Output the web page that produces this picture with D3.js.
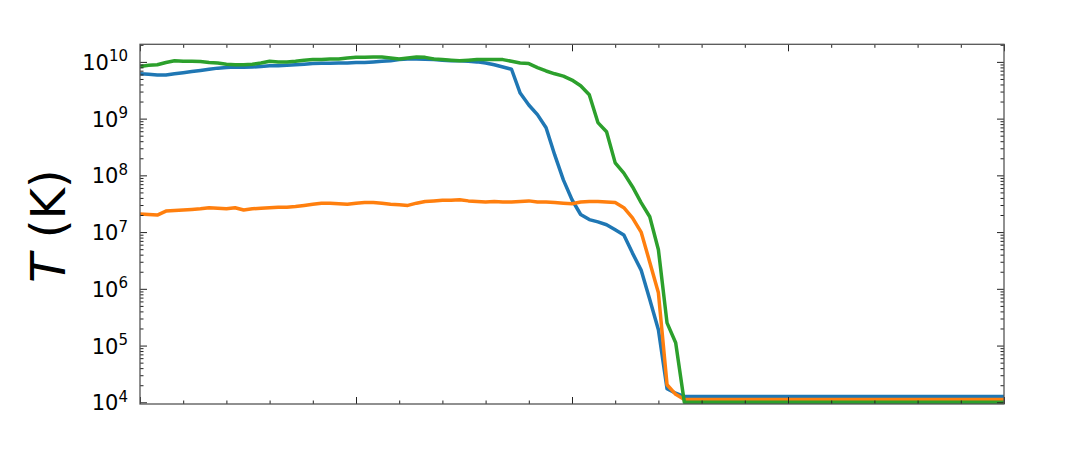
<!DOCTYPE html>
<html>
<head>
<meta charset="utf-8">
<script src="https://cdn.jsdelivr.net/npm/d3@7"></script>
<style>
  body { margin: 0; background: #fff; }
  svg { display: block; }
  .tick line { stroke: #222; }
  .domain { display: none; }
  .ylab { font-family: 'DejaVu Sans', sans-serif; fill: #000; }
</style>
</head>
<body>
<div id="chart"></div>
<script>
'use strict';

// x positions: fixed step, the last point carries the flat tail to x = 4
const xStep = 0.04;
const xEnd = 4;

// log10(T) for each series, one value per x step
const blueLog = [
  9.79, 9.78, 9.77, 9.77, 9.79, 9.81, 9.83, 9.85, 9.87, 9.89,
  9.90, 9.91, 9.905, 9.91, 9.92, 9.93, 9.93, 9.94, 9.95, 9.96,
  9.97, 9.975, 9.975, 9.98, 9.98, 9.99, 9.99, 10.0, 10.01, 10.02,
  10.04, 10.05, 10.05, 10.045, 10.04, 10.03, 10.02, 10.02, 10.01, 10.0,
  9.98, 9.95, 9.91, 9.87, 9.45, 9.24, 9.07, 8.84, 8.36, 7.92,
  7.57, 7.31, 7.22, 7.18, 7.13, 7.04, 6.95, 6.63, 6.33, 5.81,
  5.28, 4.24, 4.16, 4.10
];
const orangeLog = [
  7.32, 7.31, 7.30, 7.37, 7.38, 7.39, 7.40, 7.41, 7.43, 7.42,
  7.41, 7.43, 7.39, 7.41, 7.42, 7.43, 7.44, 7.44, 7.45, 7.47,
  7.49, 7.51, 7.51, 7.50, 7.49, 7.51, 7.52, 7.52, 7.51, 7.49,
  7.48, 7.47, 7.51, 7.54, 7.55, 7.56, 7.56, 7.57, 7.55, 7.54,
  7.53, 7.54, 7.53, 7.53, 7.54, 7.55, 7.53, 7.53, 7.52, 7.51,
  7.50, 7.53, 7.54, 7.54, 7.53, 7.52, 7.43, 7.25, 7.00, 6.47,
  5.93, 4.31, 4.14, 4.05
];
const greenLog = [
  9.92, 9.94, 9.95, 9.99, 10.02, 10.01, 10.01, 10.005, 9.99, 9.98,
  9.96, 9.95, 9.95, 9.96, 9.98, 10.01, 10.0, 10.0, 10.01, 10.03,
  10.04, 10.04, 10.05, 10.05, 10.07, 10.08, 10.08, 10.085, 10.085, 10.07,
  10.05, 10.07, 10.085, 10.08, 10.05, 10.04, 10.03, 10.02, 10.03, 10.04,
  10.04, 10.04, 10.04, 10.01, 9.98, 9.97, 9.90, 9.84, 9.79, 9.75,
  9.68, 9.58, 9.42, 8.93, 8.77, 8.22, 8.04, 7.80, 7.52, 7.27,
  6.69, 5.40, 5.05, 4.00
];

const seriesColors = ['#1f77b4', '#ff7f0e', '#2ca02c'];
const yDecades = [4, 5, 6, 7, 8, 9, 10];

const W = 1080, H = 450;
const margin = { left: 140, right: 76, top: 44.3, bottom: 46 };

window.onload = function () {
  const svg = d3.select('#chart').append('svg')
    .attr('width', W)
    .attr('height', H);

  const x = d3.scaleLinear()
    .domain([0, xEnd])
    .range([margin.left, W - margin.right]);
  const y = d3.scaleLog()
    .domain([Math.pow(10, 3.97), Math.pow(10, 10.31)])
    .range([H - margin.bottom, margin.top]);

  const x0 = x.range()[0], x1 = x.range()[1];
  const y0 = y.range()[0], y1 = y.range()[1];

  // minor ticks: 0.2 steps on x, 2..9 within each decade on y
  const xMajor = d3.range(0, xEnd + 0.001, 1);
  const xMinor = d3.range(0, xEnd + 0.001, 0.2).filter(v => Math.abs(v - Math.round(v)) > 1e-6);
  const yMinor = [];
  yDecades.forEach(function (d) {
    for (let m = 2; m <= 9; m++) {
      const v = m * Math.pow(10, d);
      if (v <= y.domain()[1]) yMinor.push(v);
    }
  });
  const yMajor = yDecades.map(d => Math.pow(10, d));

  // lines
  const line = d3.line()
    .x(d => x(d[0]))
    .y(d => y(d[1]));

  svg.append('clipPath').attr('id', 'clip')
    .append('rect')
    .attr('x', x0).attr('y', y1 - 2)
    .attr('width', x1 - x0).attr('height', y0 - y1 + 2);

  const lines = svg.append('g').attr('clip-path', 'url(#clip)');
  [blueLog, orangeLog, greenLog].forEach(function (vals, k) {
    const pts = vals.map((v, i) => [i * xStep, Math.pow(10, v)]);
    pts.push([xEnd, Math.pow(10, vals[vals.length - 1])]);
    lines.append('path')
      .datum(pts)
      .attr('fill', 'none')
      .attr('stroke', seriesColors[k])
      .attr('stroke-width', 3.5)
      .attr('stroke-linejoin', 'round')
      .attr('d', line);
  });

  // ticks on all four sides, pointing inward
  function addTicks(axisFn, scale, values, size, transform) {
    svg.append('g')
      .attr('transform', transform)
      .call(axisFn(scale).tickValues(values).tickSize(size).tickFormat(''))
      .selectAll('.tick line').attr('stroke-width', 1);
  }
  addTicks(d3.axisBottom, x, xMajor, -7, 'translate(0,' + y0 + ')');
  addTicks(d3.axisBottom, x, xMinor, -3.5, 'translate(0,' + y0 + ')');
  addTicks(d3.axisTop, x, xMajor, -7, 'translate(0,' + y1 + ')');
  addTicks(d3.axisTop, x, xMinor, -3.5, 'translate(0,' + y1 + ')');
  addTicks(d3.axisLeft, y, yMajor, -7, 'translate(' + x0 + ',0)');
  addTicks(d3.axisLeft, y, yMinor, -3.5, 'translate(' + x0 + ',0)');
  addTicks(d3.axisRight, y, yMajor, -7, 'translate(' + x1 + ',0)');
  addTicks(d3.axisRight, y, yMinor, -3.5, 'translate(' + x1 + ',0)');

  // spines
  svg.append('rect')
    .attr('x', x0).attr('y', y1)
    .attr('width', x1 - x0).attr('height', y0 - y1)
    .attr('fill', 'none')
    .attr('stroke', '#555')
    .attr('stroke-width', 1.3);

  // y tick labels as 10^n
  const labels = svg.append('g').selectAll('text')
    .data(yDecades)
    .enter().append('text')
      .attr('class', 'ylab')
      .attr('x', x0 - 12)
      .attr('y', d => y(Math.pow(10, d)) + 8)
      .attr('text-anchor', 'end')
      .style('font-size', '21px');
  labels.append('tspan').text('10');
  labels.append('tspan')
    .attr('dy', -8.5)
    .style('font-size', '15px')
    .text(d => d);

  // y axis title
  const title = svg.append('text')
    .attr('class', 'ylab')
    .attr('transform', 'translate(65,' + 226 + ') rotate(-90)')
    .attr('text-anchor', 'middle')
    .style('font-size', '48px');
  title.append('tspan').style('font-style', 'italic').text('T');
  title.append('tspan').text(' (K)');
};
</script>
</body>
</html>
